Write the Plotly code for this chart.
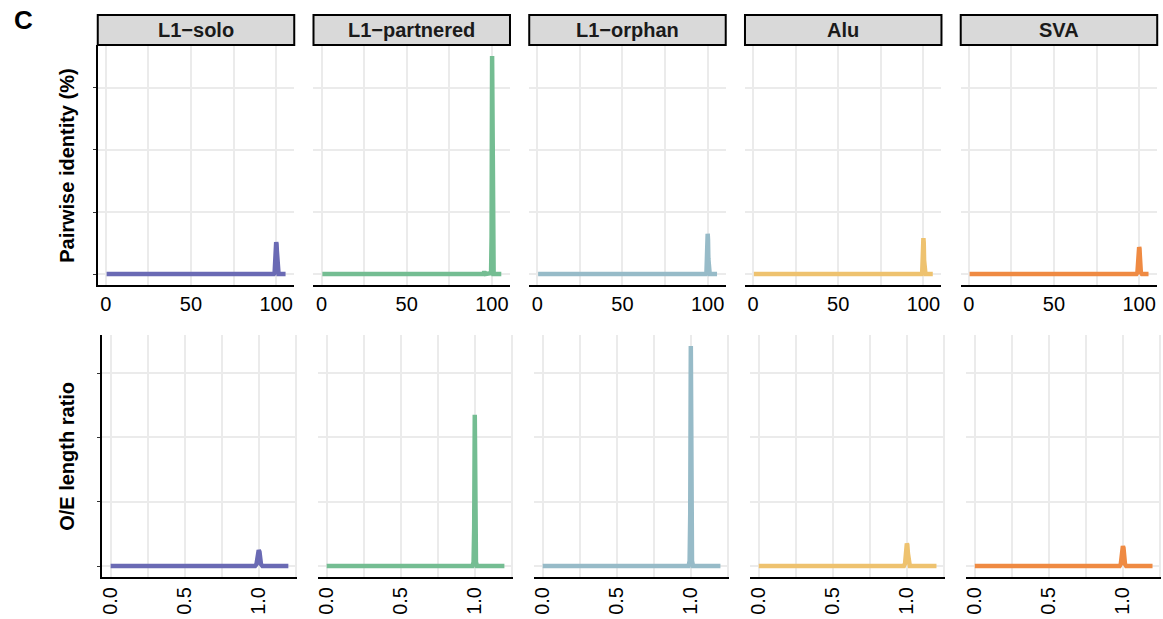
import plotly.graph_objects as go

W, H = 1163, 619

categories = ["L1\u2212solo", "L1\u2212partnered", "L1\u2212orphan", "Alu", "SVA"]
colors = ["#6A6AB4", "#74BD92", "#97BBC8", "#EEC26F", "#EF8A42"]

# Top row: pairwise identity (%) densities
ident_x = {
    "L1\u2212solo":       [0.5, 98.6, 99.1, 99.4, 99.6, 99.8, 100.0, 100.2, 100.4, 100.6, 100.9, 101.4, 105.5],
    "L1\u2212partnered":  [0.5, 94.8, 95.5, 96.2, 99.5, 99.8, 100.1, 100.4, 100.7, 101.0, 105.5],
    "L1\u2212orphan":     [0.5, 98.8, 99.3, 99.6, 99.8, 100.0, 100.2, 100.4, 100.7, 101.2, 105.5],
    "Alu":                [0.5, 98.8, 99.3, 99.6, 99.8, 100.0, 100.2, 100.4, 100.7, 101.2, 105.5],
    "SVA":                [0.5, 98.4, 99.0, 99.3, 99.6, 99.8, 100.0, 100.2, 100.4, 100.7, 101.0, 101.6, 105.5],
}
ident_y = {
    "L1\u2212solo":       [0, 0, 0.005, 0.035, 0.075, 0.098, 0.103, 0.098, 0.075, 0.035, 0.008, 0, 0],
    "L1\u2212partnered":  [0, 0, 0.007, 0, 0.003, 0.12, 0.703, 0.25, 0.02, 0, 0],
    "L1\u2212orphan":     [0, 0, 0.006, 0.05, 0.11, 0.130, 0.11, 0.05, 0.006, 0, 0],
    "Alu":                [0, 0, 0.005, 0.045, 0.10, 0.116, 0.10, 0.045, 0.005, 0, 0],
    "SVA":                [0, 0, 0.005, 0.025, 0.06, 0.082, 0.087, 0.082, 0.06, 0.025, 0.005, 0, 0],
}

# Bottom row: O/E length ratio densities
ratio_x = {
    "L1\u2212solo":       [0.0, 0.975, 0.985, 0.99, 0.995, 1.0, 1.005, 1.01, 1.015, 1.025, 1.2],
    "L1\u2212partnered":  [0.0, 0.985, 0.992, 0.996, 1.0, 1.004, 1.008, 1.015, 1.2],
    "L1\u2212orphan":     [0.0, 0.985, 0.992, 0.996, 1.0, 1.004, 1.008, 1.015, 1.2],
    "Alu":                [0.0, 0.98, 0.988, 0.993, 0.997, 1.0, 1.003, 1.007, 1.012, 1.02, 1.2],
    "SVA":                [0.0, 0.978, 0.986, 0.992, 0.996, 1.0, 1.004, 1.008, 1.014, 1.022, 1.2],
}
ratio_y = {
    "L1\u2212solo":       [0, 0, 0.3, 1.3, 2.2, 2.46, 2.2, 1.3, 0.3, 0, 0],
    "L1\u2212partnered":  [0, 0, 0.6, 6.0, 23.5, 6.0, 0.6, 0, 0],
    "L1\u2212orphan":     [0, 0, 0.8, 8.0, 34.2, 8.0, 0.8, 0, 0],
    "Alu":                [0, 0, 0.4, 2.0, 3.3, 3.5, 3.3, 2.0, 0.4, 0, 0],
    "SVA":                [0, 0, 0.3, 1.6, 2.8, 3.1, 2.8, 1.6, 0.3, 0, 0],
}

ident_ticks = [0, 25, 50, 75, 100]
ident_ticktext = ["0", "", "50", "", "100"]
ratio_ticks = [0, 0.25, 0.5, 0.75, 1.0, 1.25]
ratio_ticktext = ["0.0", "", "0.5", "", "1.0", ""]
ident_ygrid = [0, 0.2, 0.4, 0.6]
ratio_ygrid = [0, 10, 20, 30]

y_titles = ["Pairwise identity (%)", "O/E length ratio"]
panel_letter = "C"

FONT = "Liberation Sans, Arial, sans-serif"
GRID = "#EBEBEB"

fig = go.Figure()
layout = dict(
    width=W, height=H, margin=dict(l=0, r=0, t=0, b=0),
    paper_bgcolor="white", plot_bgcolor="white", showlegend=False,
    font=dict(family=FONT, color="black"),
)

def px_x(p):
    return p / W

def px_y(p):
    return 1 - p / H

top_ymax = max(max(v) for v in ident_y.values())
bot_ymax = max(max(v) for v in ratio_y.values())

shapes = []
annotations = []
for row in range(2):
    for i, cat in enumerate(categories):
        idx = row * 5 + i + 1
        xa = "x" if idx == 1 else f"x{idx}"
        ya = "y" if idx == 1 else f"y{idx}"
        if row == 0:
            left = 95 + 216.3 * i
            right = left + 197
            top, bottom = 45, 285
            xs, ys = ident_x[cat], ident_y[cat]
            xr = [-4.7, 110.6]
            ymax = top_ymax
            tv, tt, yg = ident_ticks, ident_ticktext, ident_ygrid
            tickangle = 0
        else:
            left = 99 + 216.6 * i
            right = left + 196
            top, bottom = 335, 577
            xs, ys = ratio_x[cat], ratio_y[cat]
            xr = [-0.06, 1.26]
            ymax = bot_ymax
            tv, tt, yg = ratio_ticks, ratio_ticktext, ratio_ygrid
            tickangle = -90
        fig.add_trace(go.Scatter(
            x=xs, y=ys, mode="lines", xaxis=xa, yaxis=ya,
            line=dict(color=colors[i], width=4.5),
            hoverinfo="skip",
        ))
        xkey = "xaxis" if idx == 1 else f"xaxis{idx}"
        ykey = "yaxis" if idx == 1 else f"yaxis{idx}"
        layout[xkey] = dict(
            domain=[px_x(left), px_x(right)], anchor=ya, range=xr,
            tickmode="array", tickvals=tv, ticktext=tt, tickangle=tickangle,
            showgrid=True, gridcolor=GRID, gridwidth=1.5, zeroline=False,
            showline=True, linecolor="black", linewidth=2, ticks="",
            tickfont=dict(size=20, color="black", family=FONT),
            fixedrange=True,
        )
        first = (i == 0)
        layout[ykey] = dict(
            domain=[px_y(bottom), px_y(top)], anchor=xa,
            range=[-0.05 * ymax, 1.05 * ymax],
            tickmode="array", tickvals=yg, showticklabels=False,
            showgrid=True, gridcolor=GRID, gridwidth=1.5, zeroline=False,
            showline=first, linecolor="black", linewidth=2,
            ticks="outside" if first else "", ticklen=3, tickwidth=1, tickcolor="#333333",
            fixedrange=True,
        )
        if row == 0:
            shapes.append(dict(
                type="rect", xref="paper", yref="paper",
                x0=px_x(left), x1=px_x(right), y0=px_y(45), y1=px_y(15),
                fillcolor="#D9D9D9", line=dict(color="black", width=2), layer="above",
            ))
            annotations.append(dict(
                x=px_x((left + right) / 2), y=px_y(30), xref="paper", yref="paper",
                text=f"<b>{cat}</b>", showarrow=False, xanchor="center", yanchor="middle",
                font=dict(size=20, color="#1A1A1A", family=FONT),
            ))

annotations.append(dict(
    x=px_x(64), y=px_y(165), xref="paper", yref="paper", text=f"<b>{y_titles[0]}</b>",
    textangle=-90, showarrow=False, xanchor="center", yanchor="middle",
    font=dict(size=20, color="black", family=FONT),
))
annotations.append(dict(
    x=px_x(64), y=px_y(456), xref="paper", yref="paper", text=f"<b>{y_titles[1]}</b>",
    textangle=-90, showarrow=False, xanchor="center", yanchor="middle",
    font=dict(size=20, color="black", family=FONT),
))
annotations.append(dict(
    x=px_x(21), y=px_y(20), xref="paper", yref="paper", text=f"<b>{panel_letter}</b>",
    showarrow=False, xanchor="center", yanchor="middle",
    font=dict(size=26, color="black", family=FONT),
))

layout["shapes"] = shapes
layout["annotations"] = annotations
fig.update_layout(**layout)
fig.write_html(
    "out.html",
    config={"displayModeBar": False},
    post_script="document.body.style.margin='0px';document.body.style.padding='0px';",
)
